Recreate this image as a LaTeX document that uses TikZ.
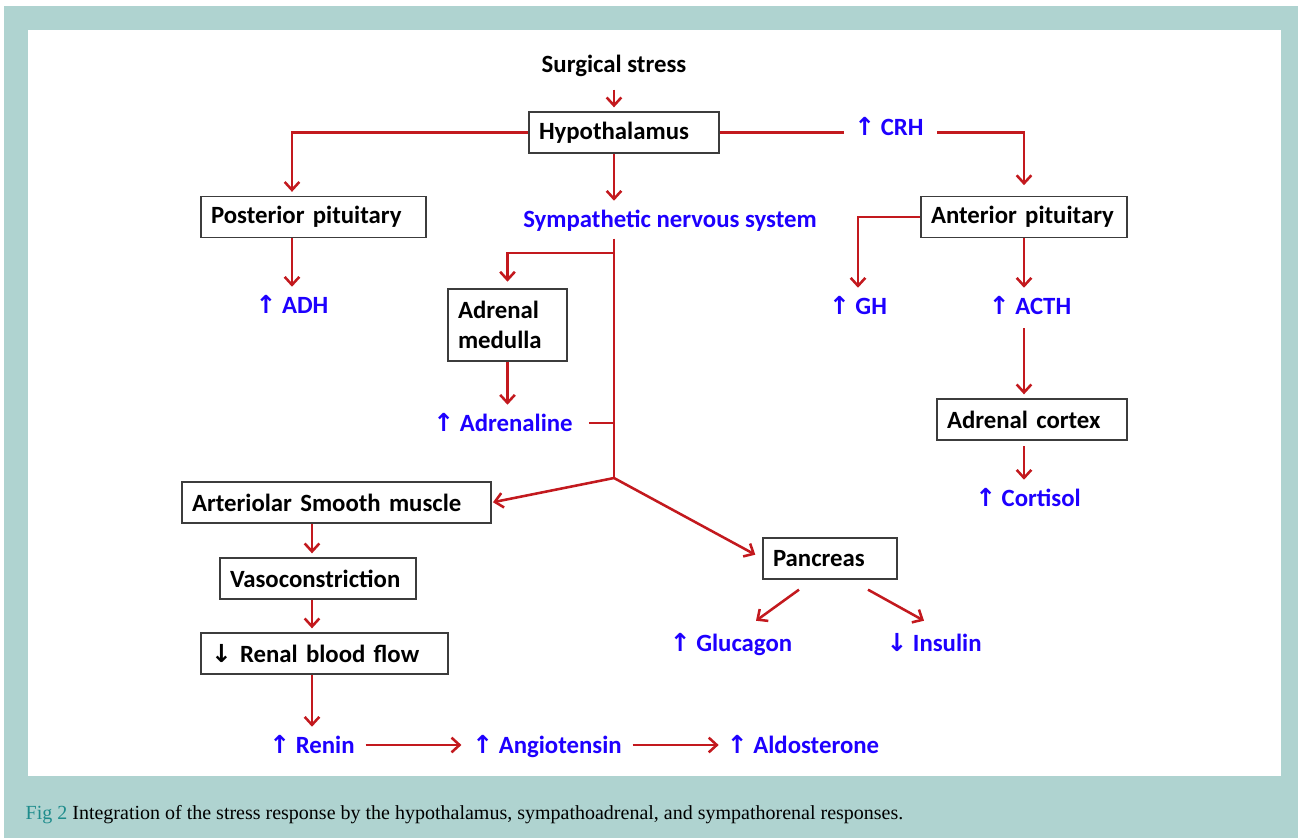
\documentclass[tikz,border=0pt]{standalone}
\usepackage{fontspec}
\usepackage{tikz}
\usetikzlibrary{arrows.meta, positioning, calc}
\setmainfont{Carlito}
\newfontfamily\capfont{Liberation Serif}
\newfontfamily\arrfont{DejaVu Sans}
\definecolor{panelbg}{RGB}{175,211,208}
\definecolor{linkred}{RGB}{195,25,30}
\definecolor{hormblue}{RGB}{30,0,255}
\definecolor{boxline}{RGB}{60,60,60}
\definecolor{figteal}{RGB}{30,140,140}
\newcommand{\hup}{{\arrfont\bfseries ↑}}
\newcommand{\hdown}{{\arrfont\bfseries ↓}}
\tikzset{
  organ/.style={draw=boxline,line width=1pt,fill=white,align=left,inner xsep=7.5pt,inner ysep=0pt,minimum height=30.75pt,font=\bfseries\fontsize{18.6}{22}\selectfont},
  horm/.style={text=hormblue,inner sep=2pt,text height=14.5pt,text depth=2.5pt,font=\bfseries\fontsize{18.6}{22}\selectfont},
  link/.style={linkred,line width=1.9pt},
  arr/.style={link,-{Straight Barb[length=6pt,width=11pt]}},
}
\begin{document}
\begin{tikzpicture}[x=0.75pt,y=-0.75pt]
  \useasboundingbox (0,0) rectangle (1298,838);
  % frame
  \fill[white] (0,0) rectangle (1298,838);
  \fill[panelbg] (4,6) rectangle (1298,838);
  \fill[white] (28,30) rectangle (1281,776);
  % boxes and labels
  \node[font=\bfseries\fontsize{18.6}{22}\selectfont] (stress) at (614,66) {Surgical stress};
  \node[organ,text width=127.5pt] (hypo) at (624,132.5) {Hypothalamus};
  \node[organ,text width=153.75pt] (post) at (313.5,217) {Posterior pituitary};
  \node[organ,text width=139.5pt] (ant) at (1024,217) {Anterior pituitary};
  \node[horm] (sns) at (670,219) {Sympathetic\ nervous\ system};
  \node[horm] (crh) at (889,128) {\hup{} CRH};
  \node[horm] (adh) at (292,305) {\hup{} ADH};
  \node[horm] (gh) at (858,306) {\hup{} GH};
  \node[horm] (acth) at (1030,306) {\hup{} ACTH};
  \node[organ,text width=74.25pt,minimum height=54pt] (med) at (507.5,325) {Adrenal\\medulla};
  \node[horm] (adren) at (503,423) {\hup{} Adrenaline};
  \node[organ,text width=127.5pt] (cortex) at (1032,419.5) {Adrenal cortex};
  \node[horm] (cortisol) at (1028,498) {\hup{} Cortisol};
  \node[organ,text width=216.75pt] (art) at (336.5,502.5) {Arteriolar Smooth muscle};
  \node[organ,text width=132pt] (vaso) at (318,578.5) {Vasoconstriction};
  \node[organ,text width=170.25pt] (renal) at (324.5,653.5) {\hdown{} Renal blood flow};
  \node[organ,text width=85.5pt] (panc) at (830,558.5) {Pancreas};
  \node[horm] (gluc) at (731,643) {\hup{} Glucagon};
  \node[horm] (insu) at (934,643) {\hdown{} Insulin};
  \node[horm] (renin) at (312,745) {\hup{} Renin};
  \node[horm] (angio) at (547,745) {\hup{} Angiotensin};
  \node[horm] (aldo) at (803,745) {\hup{} Aldosterone};
  \coordinate (split) at (614,253);
  \coordinate (junc) at (614,478);
  % hypothalamic axes
  \draw[arr,shorten <=6pt,shorten >=3pt] (stress.south) -- (stress.south |- hypo.north);
  \draw[arr,shorten >=3pt] (hypo.west) -| (adh |- post.north);
  \draw[arr,shorten >=3pt] (adh |- post.south) -- (adh.north);
  \draw[link,shorten >=6pt] (hypo.east) -- (crh.west |- hypo.east);
  \draw[arr,shorten <=8pt,shorten >=8pt] (crh.east |- hypo.east) -| (ant.north);
  \draw[arr,shorten >=3pt] (ant.west) -| (gh.north);
  \draw[arr,shorten >=3pt] (ant.south) -- (ant.south |- acth.north);
  \draw[arr,shorten <=6pt,shorten >=3pt] (ant.south |- acth.south) -- (ant.south |- cortex.north);
  \draw[arr,shorten <=4pt,shorten >=3pt] (ant.south |- cortex.south) -- (ant.south |- cortisol.north);
  % sympathetic branch
  \draw[arr,shorten >=3pt] (hypo.south -| stress) -- (sns.north -| stress);
  \draw[link,shorten <=4pt] (sns.south -| stress) -- (junc);
  \draw[arr,shorten >=5pt] (split) -| (med.north);
  \draw[arr,shorten >=3pt] (med.south) -- (med.south |- adren.north);
  \draw[link,shorten <=10pt] (adren.east) -- (adren.east -| junc);
  \draw[arr,shorten >=1pt] (junc) -- (art.east);
  \draw[arr,shorten >=6pt] (junc) -- (panc.west);
  \draw[arr] ($(panc.south)+(-31,10)$) -- ($(gluc.north)+(25,-8)$);
  \draw[arr] ($(panc.south)+(38,10)$) -- ($(insu.north)+(-10,-8)$);
  % renal chain
  \draw[arr,shorten >=3pt] (art.south -| renin) -- (vaso.north -| renin);
  \draw[arr,shorten >=3pt] (vaso.south -| renin) -- (renal.north -| renin);
  \draw[arr,shorten >=3pt] (renal.south -| renin) -- (renin.north);
  \draw[arr,shorten <=6pt,shorten >=6pt] (renin.east) -- (angio.west);
  \draw[arr,shorten <=6pt,shorten >=4pt] (angio.east) -- (aldo.west);
  % caption
  \node[anchor=west,font=\capfont\fontsize{15}{18}\selectfont] (caption) at (21,815)
    {\textcolor{figteal}{Fig 2} Integration of the stress response by the hypothalamus, sympathoadrenal, and sympathorenal responses.};
\end{tikzpicture}
\end{document}
